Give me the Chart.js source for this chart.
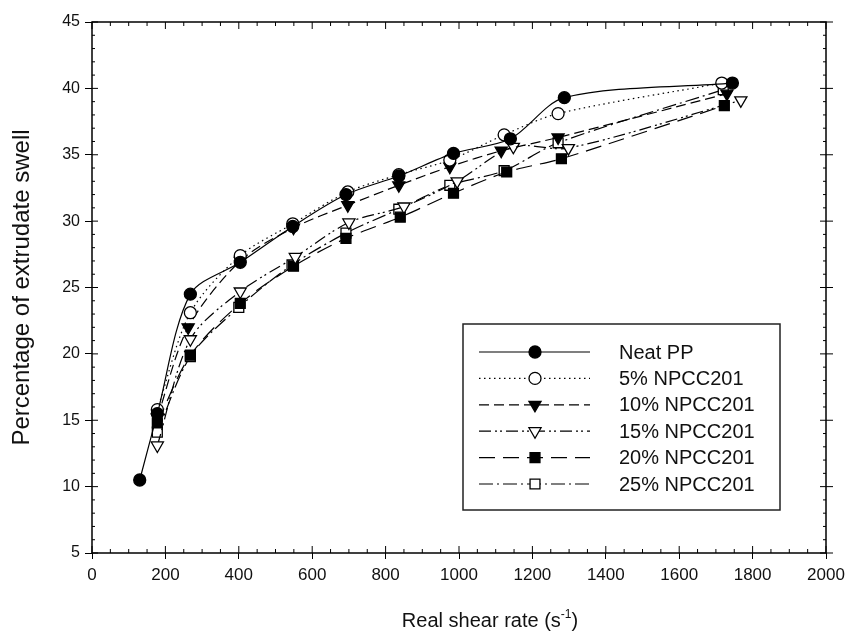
<!DOCTYPE html>
<html>
<head>
<meta charset="utf-8">
<script src="https://cdn.jsdelivr.net/npm/chart.js@4.4.1/dist/chart.umd.min.js"></script>
<style>
  html, body { margin: 0; padding: 0; background: #fff; }
  #wrap { width: 852px; height: 637px; }
</style>
</head>
<body>
<div id="wrap"><canvas id="swell"></canvas></div>
<script>
/* ─── Data ─── */
const labels = ['Neat PP', '5% NPCC201', '10% NPCC201', '15% NPCC201', '20% NPCC201', '25% NPCC201'];

const neatX  = [130, 178, 268, 404, 547, 692, 836, 985, 1140, 1287, 1745];
const neatY  = [10.5, 15.5, 24.5, 26.9, 29.6, 32.0, 33.4, 35.1, 36.2, 39.3, 40.4];

const pc5X   = [178, 268, 404, 547, 697, 836, 975, 1123, 1270, 1716];
const pc5Y   = [15.8, 23.1, 27.4, 29.8, 32.2, 33.5, 34.6, 36.5, 38.1, 40.4];

const pc10X  = [178, 262, 404, 549, 697, 836, 975, 1115, 1270, 1730];
const pc10Y  = [15.2, 22.0, 27.0, 29.5, 31.2, 32.7, 34.1, 35.3, 36.3, 39.6];

const pc15X  = [178, 268, 404, 554, 700, 850, 995, 1148, 1298, 1768];
const pc15Y  = [13.1, 21.1, 24.7, 27.3, 29.9, 31.1, 33.0, 35.6, 35.5, 39.1];

const pc20X  = [178, 268, 404, 549, 692, 840, 985, 1130, 1279, 1723];
const pc20Y  = [14.8, 19.9, 23.8, 26.6, 28.7, 30.3, 32.1, 33.7, 34.7, 38.7];

const pc25X  = [178, 268, 400, 545, 692, 836, 975, 1123, 1270, 1720];
const pc25Y  = [14.1, 19.8, 23.5, 26.7, 29.1, 30.9, 32.7, 33.8, 35.9, 39.9];

const xTicks = [0, 200, 400, 600, 800, 1000, 1200, 1400, 1600, 1800, 2000];
const yTicks = [5, 10, 15, 20, 25, 30, 35, 40, 45];

const pts = (xs, ys) => xs.map((x, i) => ({ x, y: ys[i] }));

const NARROW = '"Liberation Sans Narrow", "Liberation Sans", Arial, sans-serif';
const SANS   = '"Liberation Sans", Arial, sans-serif';

/* ─── Series styling ─── */
function series(label, xs, ys, opts) {
  return Object.assign({
    label,
    data: pts(xs, ys),
    borderColor: '#000',
    borderWidth: 1.2,
    pointBorderColor: '#000',
    pointBorderWidth: 1.3,
    pointRadius: 6,
    pointHoverRadius: 6,
    tension: 0.3,
    showLine: true,
    fill: false,
  }, opts);
}

const datasets = [
  series(labels[0], neatX, neatY, { pointStyle: 'circle', pointBackgroundColor: '#000', borderDash: [] }),
  series(labels[1], pc5X,  pc5Y,  { pointStyle: 'circle', pointBackgroundColor: '#fff', borderDash: [1.5, 3.5] }),
  series(labels[2], pc10X, pc10Y, { pointStyle: 'triangle', pointRotation: 180, pointRadius: 7, pointBackgroundColor: '#000', borderDash: [10, 5] }),
  series(labels[3], pc15X, pc15Y, { pointStyle: 'triangle', pointRotation: 180, pointRadius: 7, pointBackgroundColor: '#fff', borderDash: [12, 4, 2, 3, 2, 4] }),
  series(labels[4], pc20X, pc20Y, { pointStyle: 'rect', pointRadius: 7, pointBackgroundColor: '#000', borderDash: [16, 8] }),
  series(labels[5], pc25X, pc25Y, { pointStyle: 'rect', pointRadius: 7, pointBackgroundColor: '#fff', borderDash: [14, 4, 2, 4] }),
];

/* ─── Frame, minor ticks, x-axis title ─── */
const framePlugin = {
  id: 'frame',
  afterDraw(chart) {
    const { ctx, chartArea: a, scales: { x, y } } = chart;
    ctx.save();
    ctx.strokeStyle = '#000';
    ctx.lineWidth = 1.5;
    ctx.strokeRect(a.left, a.top, a.right - a.left, a.bottom - a.top);
    ctx.lineWidth = 1;
    ctx.beginPath();
    for (let v = 0; v <= 2000; v += 50) {
      const px = x.getPixelForValue(v);
      const len = v % 200 === 0 ? 7 : 4;
      ctx.moveTo(px, a.bottom); ctx.lineTo(px, a.bottom - len);
      ctx.moveTo(px, a.top);    ctx.lineTo(px, a.top + len);
    }
    for (let v = 5; v <= 45; v += 1) {
      const py = y.getPixelForValue(v);
      const major = v % 5 === 0;
      ctx.moveTo(a.left, py);  ctx.lineTo(a.left + (major ? 6 : 3), py);
      ctx.moveTo(a.right, py); ctx.lineTo(a.right - (major ? 6 : 3), py);
      if (major) { ctx.moveTo(a.right, py); ctx.lineTo(a.right + 7, py); }
    }
    ctx.stroke();

    // x title with a real superscript, slightly right of centre like the source
    const main = 'Real shear rate (s', sup = '-1', tail = ')';
    ctx.fillStyle = '#111';
    ctx.textBaseline = 'alphabetic';
    ctx.font = `20px ${NARROW}`;
    const wMain = ctx.measureText(main).width, wTail = ctx.measureText(tail).width;
    ctx.font = `12px ${NARROW}`;
    const wSup = ctx.measureText(sup).width;
    let tx = 490 - (wMain + wSup + wTail) / 2;
    const base = 627;
    ctx.font = `20px ${NARROW}`;
    ctx.fillText(main, tx, base); tx += wMain;
    ctx.font = `12px ${NARROW}`;
    ctx.fillText(sup, tx, base - 9); tx += wSup;
    ctx.font = `20px ${NARROW}`;
    ctx.fillText(tail, tx, base);
    ctx.restore();
  }
};

/* ─── Boxed legend with line samples ─── */
const legendPlugin = {
  id: 'boxLegend',
  afterDraw(chart) {
    const { ctx } = chart;
    const box = { l: 463, t: 324, r: 780, b: 510 };
    const rowY0 = 352, rowGap = 26.4;
    ctx.save();
    ctx.fillStyle = '#fff';
    ctx.fillRect(box.l, box.t, box.r - box.l, box.b - box.t);
    ctx.strokeStyle = '#222';
    ctx.lineWidth = 1.5;
    ctx.strokeRect(box.l, box.t, box.r - box.l, box.b - box.t);
    chart.data.datasets.forEach((ds, i) => {
      const yy = rowY0 + i * rowGap;
      ctx.save();
      ctx.strokeStyle = '#000';
      ctx.lineWidth = ds.borderWidth;
      ctx.setLineDash(ds.borderDash);
      ctx.beginPath();
      ctx.moveTo(479, yy); ctx.lineTo(590, yy);
      ctx.stroke();
      ctx.restore();
      ctx.fillStyle = ds.pointBackgroundColor;
      ctx.strokeStyle = '#000';
      ctx.lineWidth = ds.pointBorderWidth;
      Chart.helpers.drawPoint(ctx, {
        pointStyle: ds.pointStyle,
        rotation: ds.pointRotation || 0,
        radius: ds.pointRadius,
        borderWidth: ds.pointBorderWidth,
      }, 535, yy);
      ctx.fillStyle = '#111';
      ctx.font = `20px ${SANS}`;
      ctx.textBaseline = 'middle';
      ctx.fillText(ds.label, 619, yy + 1);
    });
    ctx.restore();
  }
};

new Chart(document.getElementById('swell'), {
  type: 'line',
  data: { datasets },
  options: {
    responsive: true,
    maintainAspectRatio: false,
    animation: false,
    layout: { padding: { top: 22, right: 26, left: 0, bottom: 0 } },
    plugins: {
      legend: { display: false },
      tooltip: { enabled: false },
    },
    scales: {
      x: {
        type: 'linear',
        min: 0, max: 2000,
        afterBuildTicks: (s) => { s.ticks = xTicks.map(v => ({ value: v })); },
        afterFit: (s) => { s.height = 84; },
        border: { display: false },
        grid: { display: true, drawOnChartArea: false, drawTicks: true, tickLength: 6, color: '#000' },
        ticks: {
          color: '#111',
          padding: 6,
          maxRotation: 0,
          callback: (v) => String(v),
          font: { family: NARROW, size: 17 },
        },
        title: { display: false },
      },
      y: {
        min: 5, max: 45,
        afterBuildTicks: (s) => { s.ticks = yTicks.map(v => ({ value: v })); },
        afterFit: (s) => { s.width = 92; },
        border: { display: false },
        grid: { display: true, drawOnChartArea: false, drawTicks: true, tickLength: 7, color: '#000' },
        ticks: {
          color: '#111',
          padding: 5,
          callback: (v) => String(v),
          font: { family: SANS, size: 16 },
        },
        title: {
          display: true,
          text: 'Percentage of extrudate swell',
          color: '#111',
          padding: { top: 8, bottom: 2 },
          font: { family: SANS, size: 24 },
        },
      },
    },
  },
  plugins: [framePlugin, legendPlugin],
});
</script>
</body>
</html>
